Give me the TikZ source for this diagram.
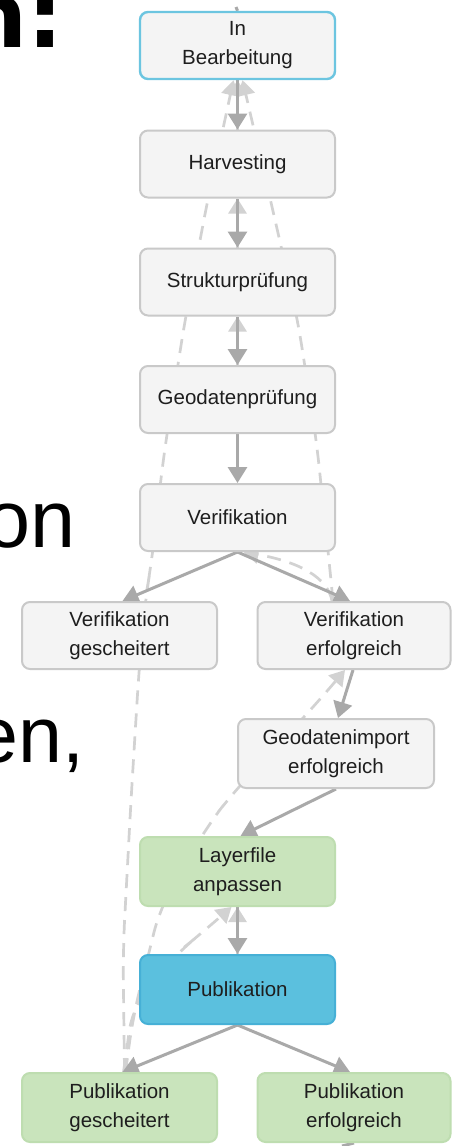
\documentclass[tikz,border=0pt]{standalone}
\usepackage{fontspec}
\setmainfont{Liberation Sans}
\newfontfamily\titlefont{DejaVu Sans}
\usetikzlibrary{arrows.meta}
\pgfdeclarelayer{bg}
\pgfsetlayers{bg,main}
\definecolor{boxfill}{HTML}{F4F4F4}
\definecolor{boxline}{HTML}{C9C9C9}
\definecolor{ibline}{HTML}{6CC5E0}
\definecolor{pubfill}{HTML}{5BC0DE}
\definecolor{publine}{HTML}{46B0D6}
\definecolor{grnfill}{HTML}{C9E4BC}
\definecolor{grnline}{HTML}{BEDDB0}
\definecolor{edgecol}{HTML}{A9A9A9}
\definecolor{backcol}{HTML}{D2D2D2}
\definecolor{txtcol}{HTML}{1E1E1E}
\tikzset{
  state/.style={draw=boxline, fill=boxfill, line width=2pt, rounded corners=8pt,
    minimum width=195pt, minimum height=67pt, inner sep=0pt, align=center,
    font=\fontsize{20.5}{29}\selectfont, text=txtcol},
  okstate/.style={state, draw=grnline, fill=grnfill, minimum height=69pt},
  flow/.style={draw=edgecol, line width=3pt, -{Triangle[length=16pt,width=19pt]}},
  flowline/.style={draw=edgecol, line width=3pt},
  backflow/.style={draw=backcol, line width=2.7pt, dash pattern=on 14pt off 9pt,
    -{Triangle[length=15pt,width=18pt]}},
  slide/.style={inner sep=0pt, text=black},
}
\begin{document}
\begin{tikzpicture}[x=1pt,y=-1pt]
\useasboundingbox (0,0) rectangle (452,1146);

% slide text fragments
\node[slide, anchor=base east, font=\titlefont\bfseries\fontsize{90}{90}\selectfont] (ttl) at (64,47) {n:};
\node[slide, anchor=base east, font=\fontsize{81}{81}\selectfont] (on) at (76,547) {on};
\node[slide, anchor=base east, font=\fontsize{79}{79}\selectfont] (en) at (85,762) {en,};

% states
\node[state, draw=ibline, line width=2.4pt] (IB) at (237.5,45.5) {In\\Bearbeitung};
\node[state] (H) at (237.5,164) {Harvesting};
\node[state] (S) at (237.5,282) {Strukturprüfung};
\node[state] (G) at (237.5,399.5) {Geodatenprüfung};
\node[state] (V) at (237.5,517.5) {Verifikation};
\node[state] (VG) at (119.5,635.5) {Verifikation\\gescheitert};
\node[state, minimum width=193pt] (VE) at (354,635.5) {Verifikation\\erfolgreich};
\node[state, minimum width=196pt, minimum height=69pt] (GI) at (336,753.5) {Geodatenimport\\erfolgreich};
\node[okstate] (L) at (237.5,871.5) {Layerfile\\anpassen};
\node[state, draw=publine, fill=pubfill, minimum height=69pt] (P) at (237.5,989.5) {Publikation};
\node[okstate] (PG) at (119.5,1107.5) {Publikation\\gescheitert};
\node[okstate, minimum width=193pt] (PE) at (354,1107.5) {Publikation\\erfolgreich};

\coordinate (topend) at (236,7);
\coordinate (botend) at (342,1146);

\begin{pgfonlayer}{bg}
  \fill[white] (0,0) rectangle (452,1146);
  % long dashed back edges
  \draw[backflow, rounded corners=30pt] ([xshift=5]PG.north) -- (123,950) -- (131,800) -- (139,670)
     -- (145,601) -- (152,560) -- (163,460) -- (185,320) -- (208,198) -- ([xshift=-4]IB.south);
  \draw[backflow, rounded corners=30pt] ([xshift=-21]VE.north) -- (329,560) -- (316,437)
     -- (297,316) -- (270,198) -- ([xshift=5]IB.south);
  \draw[backflow, rounded corners=25pt] ([xshift=6]PG.north) -- (133,1017) -- (160,908)
     -- (208,825) -- (233,793) -- (317,703) -- ([xshift=-9]VE.south);
  \draw[backflow, rounded corners=25pt] ([xshift=4]PG.north) -- (133,1005) -- (177,953)
     -- (203,932) -- ([xshift=-6]L.south);
  \draw[backflow] ([xshift=-22]VE.north) .. controls (328,578) and (300,562) .. ([xshift=6]V.south);
  % short back edges
  \draw[backflow] (H.north) -- (IB.south);
  \draw[backflow] (S.north) -- (H.south);
  \draw[backflow] (G.north) -- (S.south);
  \draw[backflow] (P.north) -- (L.south);
  % forward edges
  \draw[flowline] (topend) -- (IB.north);
  \draw[flow] (IB.south) -- (H.north);
  \draw[flow] (H.south) -- (S.north);
  \draw[flow] (S.south) -- (G.north);
  \draw[flow] (G.south) -- (V.north);
  \draw[flow] (V.south) -- ([xshift=3]VG.north);
  \draw[flow] (V.south) -- ([xshift=-4]VE.north);
  \draw[flow] ([xshift=-1]VE.south) -- ([xshift=2]GI.north);
  \draw[flow] (GI.south) -- ([xshift=3]L.north);
  \draw[flow] (L.south) -- (P.north);
  \draw[flow] (P.south) -- ([xshift=3]PG.north);
  \draw[flow] (P.south) -- ([xshift=-4]PE.north);
  \draw[flowline] (PE.south) -- (botend);
\end{pgfonlayer}
\end{tikzpicture}
\end{document}
